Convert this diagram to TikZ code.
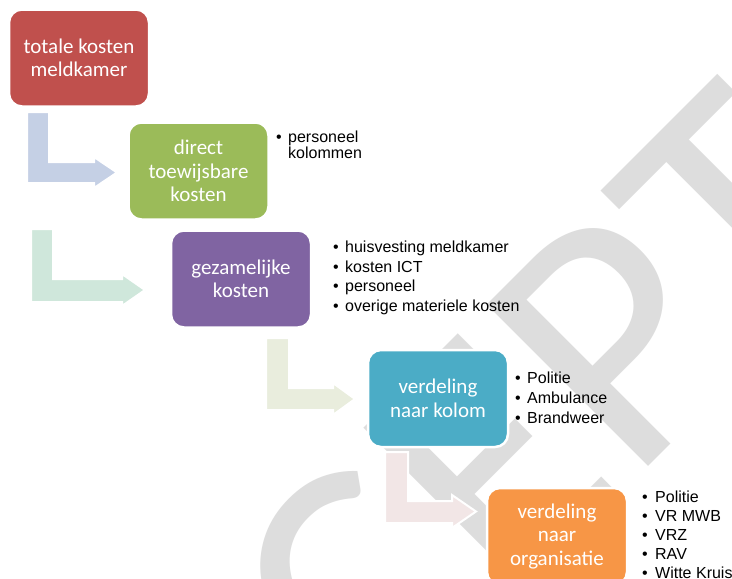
\documentclass[tikz,border=0pt]{standalone}
\usepackage{fontspec}
\setmainfont{Liberation Sans}
\newfontfamily\boxfont{Carlito}
\definecolor{cred}{HTML}{C0504D}
\definecolor{cgreen}{HTML}{9BBB59}
\definecolor{cpurple}{HTML}{8064A2}
\definecolor{cblue}{HTML}{4BACC6}
\definecolor{corange}{HTML}{F79646}
\definecolor{aone}{HTML}{C5D0E5}
\definecolor{atwo}{HTML}{CFE7DB}
\definecolor{athree}{HTML}{E9EDDD}
\definecolor{afour}{HTML}{F2E6E6}
\definecolor{wmark}{HTML}{DDDDDD}
\begin{document}
\begin{tikzpicture}[x=1pt,y=-1pt,
  stage/.style={rectangle, rounded corners=13pt, draw=white, line width=2.5pt,
    text=white, font=\boxfont\fontsize{21}{23.5}\selectfont, align=center,
    minimum width=140pt, minimum height=97pt, inner sep=0pt},
  bentarrow/.style={draw=white, line width=2pt, line join=miter},
  bullets/.style={anchor=base west, inner sep=0pt, text=black,
    font=\fontsize{16}{16}\selectfont},
  watermark/.style={anchor=base west, rotate=45, inner sep=0pt, text=wmark,
    font=\boxfont\fontsize{356}{356}\selectfont}]
\useasboundingbox (0,0) rectangle (732,579);
\begin{scope}
\clip (0,0) rectangle (732,579);
\fill[white] (0,0) rectangle (732,579);
\node[watermark] (wm) at (-88,1203) {CONCEPT};

% bent arrows
\draw[bentarrow, fill=aone] (27,112) -- ++(22,0) -- ++(0,50) -- ++(45,0) -- ++(0,-5)
  -- ++(23,15.5) -- ++(-23,15.5) -- ++(0,-5) -- ++(-67,0) -- cycle;
\draw[bentarrow, fill=atwo] (31,229) -- ++(22,0) -- ++(0,50) -- ++(69,0) -- ++(0,-5)
  -- ++(23,16) -- ++(-23,16) -- ++(0,-4) -- ++(-91,0) -- cycle;
\draw[bentarrow, fill=athree] (266,338) -- ++(23,0) -- ++(0,50) -- ++(44,0) -- ++(0,-5)
  -- ++(22,16) -- ++(-22,16) -- ++(0,-5) -- ++(-67,0) -- cycle;
\draw[bentarrow, fill=afour] (385,452) -- ++(23,0) -- ++(0,49) -- ++(44,0) -- ++(0,-6)
  -- ++(24,16.5) -- ++(-24,16.5) -- ++(0,-5) -- ++(-67,0) -- cycle;

% stages
\node[stage, fill=cred] (s1) at (79,58) {totale kosten\\meldkamer};
\node[stage, fill=cgreen] (s2) at (198.5,171) {direct\\toewijsbare\\kosten};
\node[stage, fill=cpurple] (s3) at (241,279) {gezamelijke\\kosten};
\node[stage, fill=cblue] (s4) at (438,398.5) {verdeling\\naar kolom};
\node[stage, fill=corange] (s5) at (557,536.5) {verdeling\\naar\\organisatie};

% bullet lists
\node[bullets] (l1) at (276,142.5) {\begin{tabular}[t]{@{}l@{\hspace{6.4pt}}l@{}}
  •&personeel\\ &kolommen\end{tabular}};
\node[bullets] (l2) at (333,252.5) {\begin{tabular}[t]{@{}l@{\hspace{6.4pt}}l@{}}
  •&huisvesting meldkamer\\[3.3pt] •&kosten ICT\\[3.3pt] •&personeel\\[3.3pt]
  •&overige materiele kosten\end{tabular}};
\node[bullets] (l3) at (515,383.5) {\begin{tabular}[t]{@{}l@{\hspace{6.4pt}}l@{}}
  •&Politie\\[3.5pt] •&Ambulance\\[3.5pt] •&Brandweer\end{tabular}};
\node[bullets] (l4) at (642,502.5) {\begin{tabular}[t]{@{}l@{\hspace{7.4pt}}l@{}}
  •&Politie\\[3pt] •&VR MWB\\[3pt] •&VRZ\\[3pt] •&RAV\\[3pt] •&Witte Kruis\end{tabular}};
\end{scope}
\end{tikzpicture}
\end{document}
